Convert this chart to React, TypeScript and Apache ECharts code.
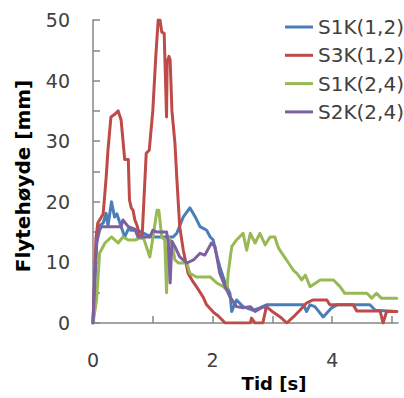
import React, { useEffect, useRef } from "react";
import * as echarts from "echarts";

const seriesNames = ["S1K(1,2)", "S3K(1,2)", "S1K(2,4)", "S2K(2,4)"];
const seriesColors = ["#4A7EBB", "#BE4B48", "#98B954", "#7D60A0"];

const xTicks = [0, 2, 4];
const yTicks = [0, 10, 20, 30, 40, 50];

// S1K(1,2)
const s1k12T = [0, 0.03, 0.08, 0.17, 0.22, 0.25, 0.31, 0.36, 0.40, 0.45, 0.53, 0.59, 0.64, 0.75, 0.85, 0.97, 1.22, 1.34, 1.40, 1.51, 1.62, 1.71, 1.79, 1.90, 1.96, 2.01, 2.06, 2.12, 2.21, 2.29, 2.32, 2.40, 2.51, 2.68, 2.79, 2.90, 3.52, 3.57, 3.63, 3.71, 3.85, 3.99, 4.08, 4.63, 4.72, 5.08];
const s1k12V = [0, 8, 15.9, 16.5, 18.1, 16, 20, 17.5, 18, 16.5, 14.2, 15.5, 15.3, 15.3, 14.8, 14.2, 14.2, 14.2, 14.8, 17.5, 19, 17.5, 15.9, 15.3, 14.2, 13.7, 11.5, 9.3, 6.6, 4.9, 1.9, 3.8, 2.7, 2.1, 2.5, 3.0, 3.0, 1.9, 3.0, 2.7, 1.0, 2.5, 3.0, 3.0, 2.1, 1.9];

// S3K(1,2)
const s3k12T = [0, 0.05, 0.08, 0.17, 0.22, 0.25, 0.30, 0.37, 0.42, 0.47, 0.53, 0.59, 0.61, 0.64, 0.67, 0.70, 0.74, 0.78, 0.82, 0.85, 0.89, 0.94, 1.00, 1.05, 1.09, 1.12, 1.15, 1.19, 1.23, 1.24, 1.27, 1.29, 1.32, 1.37, 1.40, 1.45, 1.51, 1.59, 1.66, 1.73, 1.84, 1.90, 2.01, 2.09, 2.21, 2.63, 2.65, 2.71, 2.84, 2.90, 3.01, 3.13, 3.24, 3.35, 3.46, 3.57, 3.68, 3.91, 3.96, 4.35, 4.41, 4.80, 4.85, 4.91, 5.08];
const s3k12V = [0, 14, 16.5, 18, 24, 28.5, 34, 34.5, 35, 33.5, 27, 27, 20.3, 19, 18.6, 17, 16, 14.2, 14, 20, 28, 28.5, 35, 44, 50, 50, 48, 47.8, 34, 43, 44, 43.4, 35, 29.7, 24.1, 15.9, 12, 8.2, 7, 6, 4.3, 3.0, 1.8, 1.2, 0, 0, 0.8, 0, 0, 2.7, 1.8, 1.0, 0, 1.0, 2.1, 3.3, 3.8, 3.8, 3.0, 3.0, 2.0, 2.0, 0, 1.9, 1.9];

// S1K(2,4)
const s1k24T = [0, 0.06, 0.11, 0.20, 0.31, 0.42, 0.50, 0.59, 0.70, 0.84, 0.95, 1.00, 1.07, 1.10, 1.15, 1.20, 1.23, 1.26, 1.32, 1.37, 1.43, 1.57, 1.62, 1.73, 1.96, 2.07, 2.18, 2.24, 2.26, 2.32, 2.40, 2.51, 2.57, 2.63, 2.71, 2.79, 2.88, 2.96, 3.04, 3.10, 3.18, 3.27, 3.35, 3.41, 3.49, 3.55, 3.63, 3.80, 4.02, 4.13, 4.21, 4.58, 4.66, 4.74, 4.82, 5.08];
const s1k24V = [0, 3.8, 11.5, 13.2, 14.2, 13.2, 14.2, 13.7, 13.7, 14.2, 10.9, 14, 18.6, 18.6, 14.2, 13.7, 5, 14.2, 13.2, 10.4, 9.9, 9.9, 8.2, 7.6, 7.6, 6.6, 6.0, 5.4, 8.2, 12.6, 13.7, 14.8, 12, 14.8, 13.2, 14.8, 12.9, 14.2, 14.2, 12.4, 11.2, 9.9, 8.7, 8.2, 7.1, 7.9, 6.0, 7.1, 7.1, 6.0, 4.9, 4.9, 4.1, 4.9, 4.1, 4.1];

// S2K(2,4)
const s2k24T = [0, 0.06, 0.11, 0.14, 0.47, 0.50, 0.59, 0.70, 0.75, 0.95, 1.00, 1.07, 1.23, 1.26, 1.29, 1.32, 1.37, 1.45, 1.57, 1.68, 1.79, 1.87, 1.98, 2.04, 2.12, 2.21, 2.29, 2.40, 2.51, 2.63, 2.71, 2.85, 2.88];
const s2k24V = [0, 13.2, 15.3, 15.9, 15.9, 17, 15.9, 15.5, 14.2, 14.2, 15.3, 15, 15, 13.2, 6.6, 13.5, 12.6, 10.9, 9.9, 10.4, 11.5, 11.2, 13.2, 12.6, 8.2, 6, 4.3, 2.7, 2.5, 2.7, 1.9, 2.7, 2.5];

const allT = [s1k12T, s3k12T, s1k24T, s2k24T];
const allV = [s1k12V, s3k12V, s1k24V, s2k24V];

const FONT = "DejaVu Sans";
const TEXT = "#404040";
const AXIS = "#868686";

export default function App() {
  const ref = useRef<HTMLDivElement>(null);
  useEffect(() => {
    document.body.style.margin = "0";
    const chart = echarts.init(ref.current!, null, { renderer: "svg" });
    const series = seriesNames.map((name, i) => ({
      name,
      type: "line",
      data: allT[i].map((t, j) => [t, allV[i][j]]),
      showSymbol: false,
      symbol: "none",
      lineStyle: { color: seriesColors[i], width: 3, join: "round", cap: "round" },
      itemStyle: { color: seriesColors[i] },
      z: 2,
    }));
    chart.setOption({
      animation: false,
      backgroundColor: "#ffffff",
      grid: { left: 93, top: 20, right: 6, bottom: 75, containLabel: false },
      legend: {
        orient: "vertical",
        left: 280,
        top: 12,
        icon: "rect",
        itemWidth: 28,
        itemHeight: 3,
        itemGap: 8.3,
        textStyle: { fontFamily: FONT, fontSize: 20, color: TEXT, lineHeight: 20 },
        data: seriesNames,
      },
      xAxis: {
        type: "value",
        min: 0,
        max: 5.1,
        interval: 1,
        axisLine: { show: true, lineStyle: { color: AXIS, width: 1.5 } },
        axisTick: { show: true, inside: true, length: 7, lineStyle: { color: AXIS, width: 1.5 } },
        splitLine: { show: false },
        axisLabel: {
          showMaxLabel: false,
          margin: 27,
          fontFamily: FONT,
          fontSize: 19,
          color: TEXT,
          formatter: (v: number) => (xTicks.includes(v) ? String(v) : ""),
        },
      },
      yAxis: {
        type: "value",
        min: 0,
        max: 50,
        interval: 5,
        axisLine: { show: true, lineStyle: { color: AXIS, width: 1.5 } },
        axisTick: { show: true, inside: true, length: 7, lineStyle: { color: AXIS, width: 1.5 } },
        splitLine: { show: false },
        axisLabel: {
          margin: 23,
          fontFamily: FONT,
          fontSize: 19,
          color: TEXT,
          formatter: (v: number) => (yTicks.includes(v) ? String(v) : ""),
        },
      },
      graphic: [
        {
          type: "text",
          x: 274,
          y: 383,
          style: {
            text: "Tid [s]",
            fontFamily: FONT,
            fontWeight: "bold",
            fontSize: 18,
            fill: "#000000",
            align: "center",
            verticalAlign: "middle",
          },
        },
        {
          type: "text",
          x: 23,
          y: 176,
          rotation: Math.PI / 2,
          style: {
            text: "Flytehøyde [mm]",
            fontFamily: FONT,
            fontWeight: "bold",
            fontSize: 20,
            fill: "#000000",
            align: "center",
            verticalAlign: "middle",
          },
        },
      ],
      series,
    });
    return () => chart.dispose();
  }, []);
  return <div ref={ref} style={{ position: "absolute", left: 0, top: 0, width: 404, height: 398 }} />;
}
